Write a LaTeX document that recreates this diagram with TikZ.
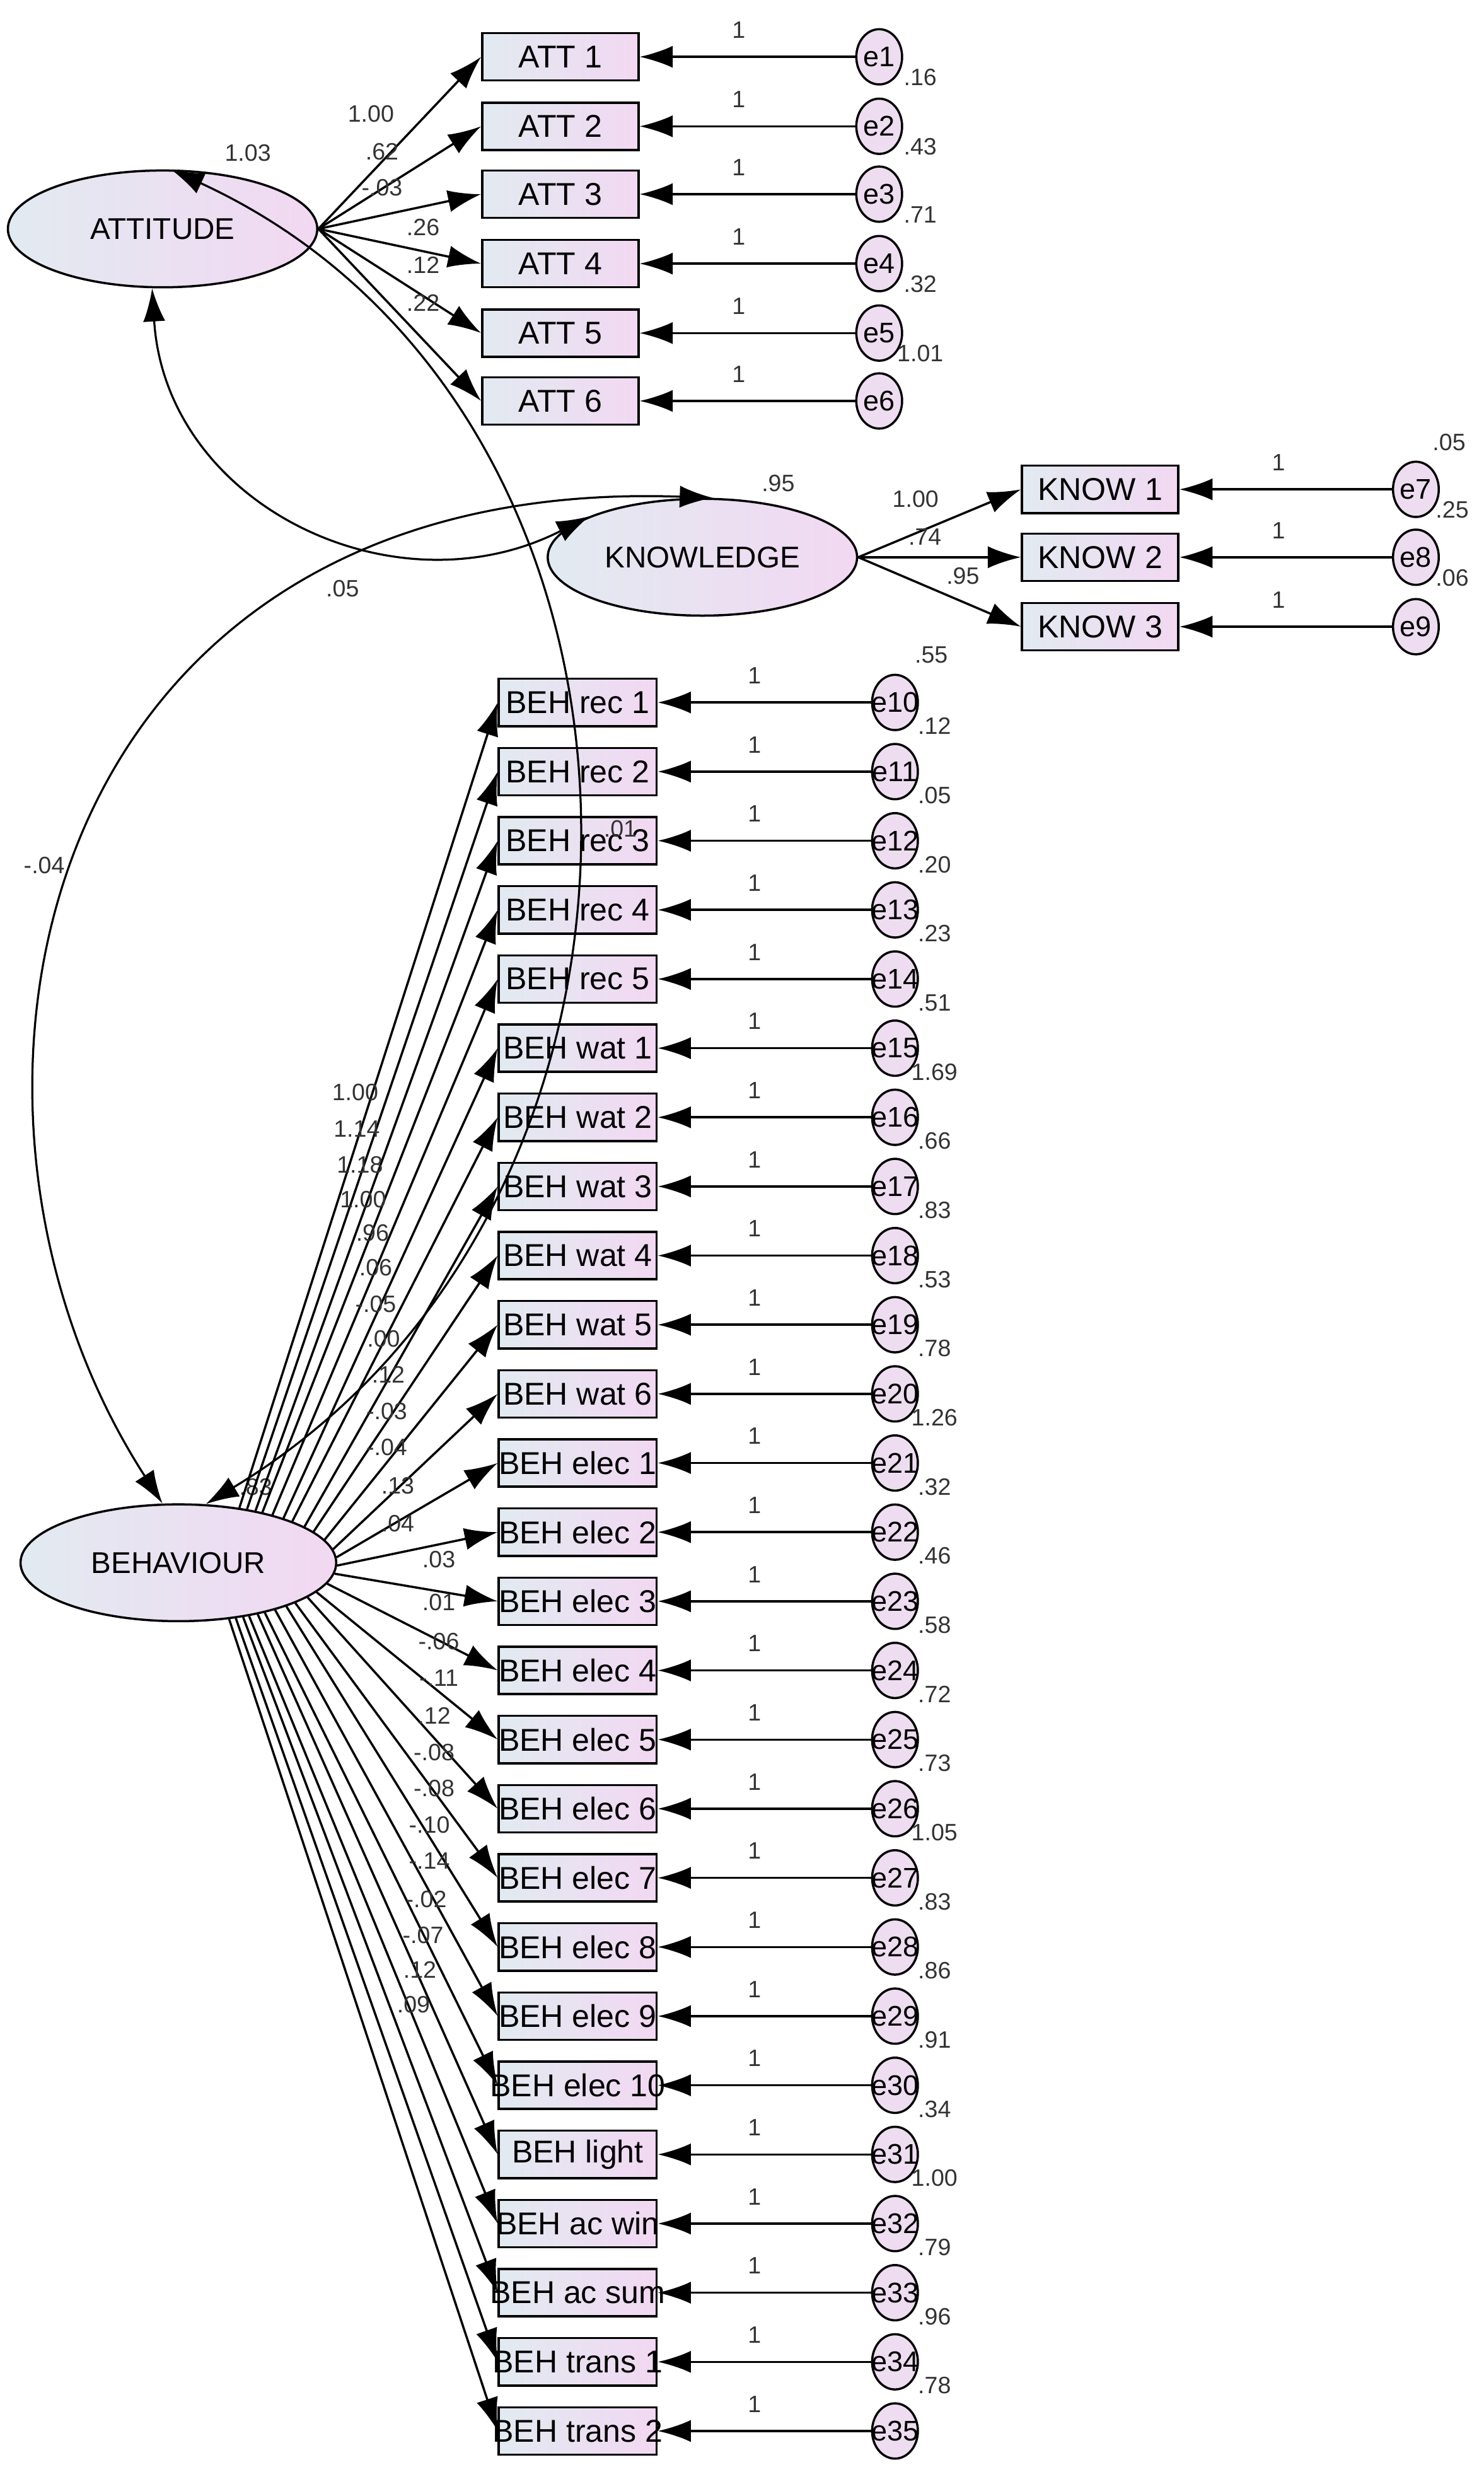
\documentclass[tikz,border=0pt]{standalone}
\usepackage{fontspec}
\setmainfont{Liberation Sans}
\usetikzlibrary{arrows.meta,shapes.geometric}
\definecolor{fillL}{HTML}{E2EAF1}
\definecolor{fillR}{HTML}{F2D8F2}
\definecolor{errF}{HTML}{EEDDF0}
\definecolor{labC}{HTML}{333333}
\begin{document}
\begin{tikzpicture}[x=1pt,y=-1pt,
 lat/.style={ellipse,draw,line width=1.4pt,left color=fillL,right color=fillR,minimum width=196pt,minimum height=74pt,inner sep=0pt,font=\fontsize{19}{19}\selectfont},
 obs/.style={rectangle,draw,line width=1.4pt,left color=fillL,right color=fillR,minimum width=99pt,minimum height=30pt,inner sep=0pt},
 otxt/.style={inner sep=0pt,font=\fontsize{20}{20}\selectfont},
 err/.style={ellipse,draw,line width=1.4pt,fill=errF,minimum width=29pt,minimum height=35pt,inner sep=0pt},
 etxt/.style={inner sep=0pt,font=\fontsize{18}{18}\selectfont},
 lbl/.style={font=\fontsize{15}{15}\selectfont,text=labC,inner sep=0pt},
 arr/.style={-{Latex[length=21pt,width=14pt]},line width=1.4pt},
 darr/.style={{Latex[length=21pt,width=14pt]}-{Latex[length=21pt,width=14pt]},line width=1.3pt}]
\useasboundingbox (0,0) rectangle (940,1566);
% latent variables
\node[lat] (att) at (103,145) {ATTITUDE};
\node[lat] (know) at (445,353) {KNOWLEDGE};
\node[lat,minimum width=200pt] (beh) at (113,990) {BEHAVIOUR};
\node[lbl] (vatt) at (157,97) {1.03};
\node[lbl] (vknow) at (493,306) {.95};
\node[lbl] (vbeh) at (162,942) {.83};
% ATT indicators
\foreach \i/\y in {1/36,2/80,3/123,4/167,5/211,6/254}{
  \node[obs] (a\i) at (355,\y) {};
  \node[otxt] (ta\i) at (355,\y) {ATT \i};
  \node[err] (e\i) at (557,\y) {};
  \node[etxt] (te\i) at (557,\y) {e\i};
  \draw[arr] (e\i) -- (a\i);
  \draw[arr] (att.east) -- (a\i.west);
  \node[lbl] (o\i) at (468,\y-17) {1};
}
\foreach \i/\y/\v in {1/36/.16,2/80/.43,3/123/.71,4/167/.32,5/211/1.01}{
  \node[lbl] (va\i) at (583,\y+13) {\v};
}
\node[lbl] (la1) at (235,72) {1.00};
\node[lbl] (la2) at (242,96) {.62};
\node[lbl] (la3) at (242,119) {-.03};
\node[lbl] (la4) at (268,144) {.26};
\node[lbl] (la5) at (268,168) {.12};
\node[lbl] (la6) at (268,192) {.22};
% KNOW indicators
\foreach \i/\y/\n in {1/310/7,2/353/8,3/397/9}{
  \node[obs] (k\i) at (697,\y) {};
  \node[otxt] (tk\i) at (697,\y) {KNOW \i};
  \node[err] (e\n) at (897,\y) {};
  \node[etxt] (te\n) at (897,\y) {e\n};
  \draw[arr] (e\n) -- (k\i);
  \draw[arr] (know.east) -- (k\i.west);
  \node[lbl] (ok\i) at (810,\y-17) {1};
}
\node[lbl] (vk0) at (918,280) {.05};
\node[lbl] (vk1) at (920,323) {.25};
\node[lbl] (vk2) at (920,366) {.06};
\node[lbl] (lk1) at (580,316) {1.00};
\node[lbl] (lk2) at (586,340) {.74};
\node[lbl] (lk3) at (610,365) {.95};
% BEH indicators
\foreach \lab [count=\k from 0, evaluate=\k as \y using 445+\k*43.8, evaluate=\k as \ang using 42-\k*3.6, evaluate=\k as \n using int(10+\k)] in
 {BEH rec 1,BEH rec 2,BEH rec 3,BEH rec 4,BEH rec 5,BEH wat 1,BEH wat 2,BEH wat 3,BEH wat 4,BEH wat 5,BEH wat 6,BEH elec 1,BEH elec 2,BEH elec 3,BEH elec 4,BEH elec 5,BEH elec 6,BEH elec 7,BEH elec 8,BEH elec 9,BEH elec 10,BEH light,BEH ac win,BEH ac sum,BEH trans 1,BEH trans 2}{
  \node[obs,minimum width=100pt] (b\n) at (366,\y) {};
  \node[otxt] (tb\n) at (366,\y) {\lab};
  \node[err] (e\n) at (567,\y) {};
  \node[etxt] (te\n) at (567,\y) {e\n};
  \draw[arr] (e\n) -- (b\n);
  \draw[arr] (beh.\ang) -- (b\n.west);
  \node[lbl] (ob\n) at (478,\y-17) {1};
}
\node[lbl] (vb0) at (590,415) {.55};
\foreach \v [count=\k from 0, evaluate=\k as \y using 445+\k*43.8+15] in
 {.12,.05,.20,.23,.51,1.69,.66,.83,.53,.78,1.26,.32,.46,.58,.72,.73,1.05,.83,.86,.91,.34,1.00,.79,.96,.78}{
  \node[lbl] at (592,\y) {\v};
}
\foreach \v/\x/\y in {1.00/225/692,1.14/226/715,1.18/228/738,1.00/230/760,.96/236/781,.06/238/803,-.05/238/826,.00/243/848,.12/246/871,-.03/245/894,-.04/245/917,.13/252/941,.04/252/965,.03/278/988,.01/278/1015,-.06/278/1040,-.11/278/1063,.12/275/1087,-.08/275/1110,-.08/275/1133,-.10/272/1156,-.14/272/1179,-.02/270/1203,-.07/268/1226,.12/266/1248,.09/262/1270}{
  \node[lbl] at (\x,\y) {\v};
}
\node[lbl] (x01) at (393,525) {.01};
% covariances
\draw[darr] (att.260) .. controls (105,320) and (250,390) .. (know.160);
\draw[darr] (att.82) .. controls (440,260) and (450,760) .. (beh.65);
\draw[darr] (beh.105) .. controls (-60,700) and (20,300) .. (know.80);
\node[lbl] (c1) at (217,373) {.05};
\node[lbl] (c2) at (28,548) {-.04};
\end{tikzpicture}
\end{document}
